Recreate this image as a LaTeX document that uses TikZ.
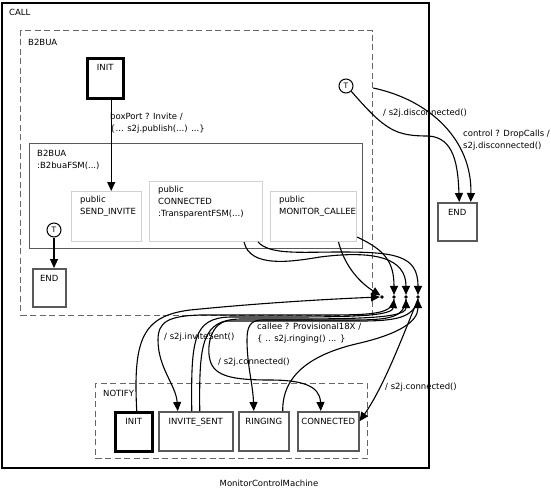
\documentclass[tikz,border=0pt]{standalone}
\usepackage{fontspec}
\setmainfont{DejaVu Sans}
\usetikzlibrary{positioning,arrows.meta}

\begin{document}
\begin{tikzpicture}[
        x=1pt, y=-1pt,
        font=\fontsize{8.5}{12}\selectfont,
        box/.style    ={draw, anchor=north west, inner sep=0pt},
        boxlbl/.style ={anchor=north west, inner sep=0pt, xshift=8pt, yshift=-7pt, align=left},
        stlbl/.style  ={anchor=north, inner sep=0pt, yshift=-7pt},
        callbox/.style={box, line width=1.9pt},
        region/.style ={box, draw=black!60, dash pattern=on 6pt off 3.5pt, line width=1.2pt},
        fsm/.style    ={box, draw=black!65, line width=1.1pt},
        sub/.style    ={box, draw=black!18, line width=1pt},
        state/.style  ={box, draw=black!65, line width=1.5pt},
        initst/.style ={box, line width=2.5pt},
        tnode/.style  ={draw, circle, line width=1pt, minimum size=14pt, inner sep=0pt, font=\fontsize{7.5}{8}\selectfont},
        junc/.style   ={circle, fill, inner sep=0pt, minimum size=3.8pt},
        trans/.style  ={draw, line width=1.1pt, -{Triangle[length=9pt,width=8pt]}},
        tlbl/.style   ={anchor=west, inner sep=0pt, align=left}
    ]
        \useasboundingbox (0,0) rectangle (551,488);
        % machine and B2BUA region
        \node[callbox, minimum width=427, minimum height=465,
              label={[boxlbl]north west:CALL}] (call) at (1,2) {};
        \node[region, minimum width=352, minimum height=285,
              label={[boxlbl, yshift=-2pt]north west:B2BUA}] (b2bua) at (20,30) {};
        \node[initst, minimum width=36, minimum height=40,
              label={[stlbl]north:INIT}] (binit) at (86,57) {};
        \node[fsm, minimum width=333, minimum height=105,
              label={[boxlbl]north west:{B2BUA\\:B2buaFSM(...)}}] (fsm) at (29,143) {};
        \node[sub, minimum width=70, minimum height=50,
              label={[boxlbl, xshift=1pt, yshift=2pt]north west:{public\\SEND\_INVITE}}] (sendinv) at (71,191) {};
        \node[sub, minimum width=113, minimum height=60,
              label={[boxlbl, xshift=1pt, yshift=2pt]north west:{public\\CONNECTED\\:TransparentFSM(...)}}] (conn) at (149,181) {};
        \node[sub, minimum width=86, minimum height=50,
              label={[boxlbl, xshift=1pt, yshift=2pt]north west:{public\\MONITOR\_CALLEE}}] (mon) at (270,191) {};
        \node[tnode] (t1) at (54,230) {T};
        \node[state, minimum width=33, minimum height=38,
              label={[stlbl]north:END}] (end1) at (32,268) {};
        \node[tnode] (t2) at (346,86) {T};
        \node[state, minimum width=39, minimum height=38,
              label={[stlbl]north:END}] (end2) at (437,202) {};
        % NOTIFY region
        \node[region, minimum width=272, minimum height=75,
              label={[boxlbl]north west:NOTIFY}] (notify) at (95,383) {};
        \foreach \nm/\kind/\lx/\w/\lbl in {%
            ninit/initst/114/37/INIT, ninv/state/158/74/INVITE\_SENT,
            nring/state/238/50/RINGING, nconn/state/297/61/CONNECTED%
        }
            \node[\kind, minimum width=\w, minimum height=39,
                  label={[stlbl]north:\lbl}] (\nm) at (\lx,411) {};
        % junction points
        \foreach \i/\jx in {0/382, 1/394, 2/406, 3/418}
            \node[junc] (j\i) at (\jx,297) {};

        % B2BUA transitions
        \draw[trans] ([xshift=6pt]binit.south) -- ([xshift=6pt]binit.south |- sendinv.north);
        \node[tlbl] (lblinv) at (110,123.5) {boxPort ? Invite /\\\{... s2j.publish(...) ...\}};
        \draw[trans] (t1) -- (end1.north -| t1);
        \draw[trans] (t2.south east) .. controls (385,130) and (395,136) .. (428,136)
            .. controls (454,137) and (458,165) .. ([xshift=2pt]end2.north);
        \node[tlbl] (lbldisc) at (383,113) {/ s2j.disconnected()};
        \coordinate (dropsrc) at (b2bua.north east |- 0,88);
        \draw[trans] (dropsrc) .. controls (430,100) and (472,140) .. ([xshift=13.5pt]end2.north);
        \node[tlbl] (lbldrop) at (463,140) {control ? DropCalls /\\s2j.disconnected()};

        % into the junctions from above
        \draw[trans] ([xshift=25pt]mon.south) .. controls (345,268) and (362,284) .. (j0.north west);
        \draw[trans] ([yshift=5pt]mon.south east) .. controls (385,250) and (394,262) .. (j1.north);
        \draw[trans] ([xshift=38pt]conn.south) .. controls (250,268) and (290,262) .. (320,257)
            .. controls (375,250) and (406,258) .. (j2.north);
        \draw[trans] ([xshift=52pt]conn.south) .. controls (270,255) and (300,252) .. (340,252)
            .. controls (395,252) and (418,255) .. (j3.north);

        % into the junctions from below
        \draw[trans] ([xshift=3pt]ninit.north) .. controls (133,340) and (142,316) .. (190,310)
            .. controls (260,303) and (330,299) .. (j0.west);
        \draw[trans] ([xshift=-4pt]ninv.north) .. controls (191,340) and (193,318) .. (230,317)
            .. controls (330,317) and (392,318) .. (j1.south);
        \draw[trans] ([xshift=4pt]ninv.north) .. controls (199,342) and (202,320) .. (240,319)
            .. controls (340,319) and (406,320) .. (j2.south);
        \draw[trans] ([xshift=19pt]nring.north) .. controls (282,370) and (320,352) .. (360,343)
            .. controls (398,334) and (418,322) .. (j3.south);

        % out of the junctions into NOTIFY
        \draw[trans] (j1.south) .. controls (392,316) and (370,315) .. (300,315) -- (200,315)
            .. controls (168,316) and (158,322) .. (158,340)
            .. controls (158,368) and (176,385) .. ([xshift=-18pt]ninv.north);
        \node[tlbl] (lblsent) at (164,337) {/ s2j.inviteSent()};
        \draw[trans] (j2.south) .. controls (404,318) and (390,320) .. (350,320) -- (262,320)
            .. controls (250,320) and (247,327) .. (247,340)
            .. controls (247,365) and (253,385) .. ([xshift=-10pt]nring.north);
        \node[tlbl] (lblring) at (257,333) {callee ? Provisional18X /\\\{ .. s2j.ringing() ... \}};
        \draw[trans] (j3.south) .. controls (414,318) and (395,321) .. (360,321) -- (228,321)
            .. controls (212,322) and (206,345) .. (210,360)
            .. controls (214,377) and (235,380) .. (270,380)
            .. controls (300,380) and (320,385) .. ([xshift=-7.5pt]nconn.north);
        \node[tlbl] (lblconn) at (218,362) {/ s2j.connected()};
        \draw[trans] (j3.south) .. controls (405,330) and (385,385) .. ([yshift=10pt]nconn.east);
        \node[tlbl] (lblconn2) at (385,387) {/ s2j.connected()};

        % caption
        \node (caption) at (269,483) {MonitorControlMachine};
\end{tikzpicture}
\end{document}
